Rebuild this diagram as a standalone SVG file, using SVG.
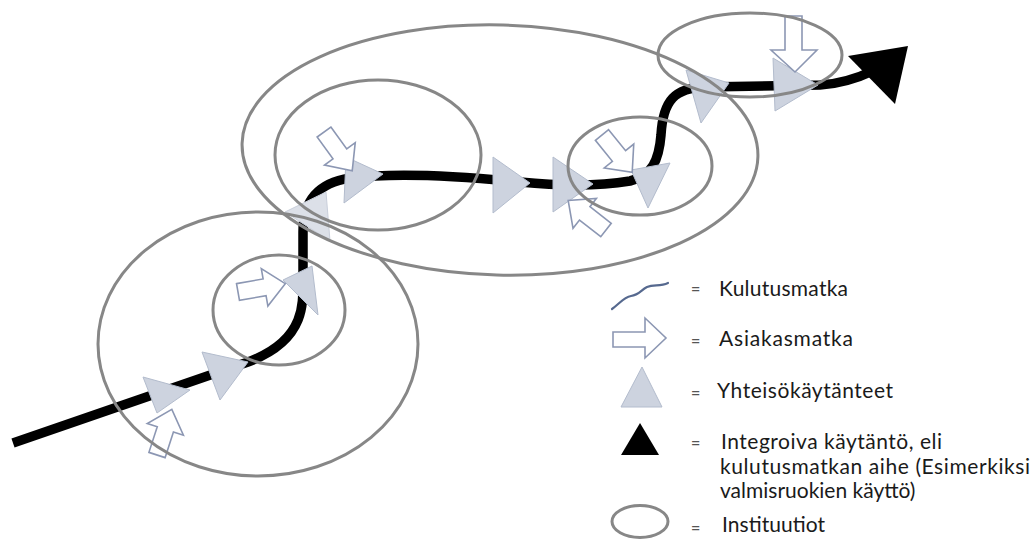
<svg xmlns="http://www.w3.org/2000/svg" xmlns:xlink="http://www.w3.org/1999/xlink" width="1035" height="540" viewBox="0 0 1035 540">
  <style>
    .journey { fill: none; stroke: #000; stroke-width: 9.5; stroke-linejoin: round; }
    .practice { fill: #cdd3df; stroke: #b3bccd; stroke-width: 1; }
    .faded { fill: #dce0e8; stroke: #c9cfdb; }
    .visit { fill: #fff; stroke: #8c97b3; stroke-width: 1.6; stroke-linejoin: miter; }
    .inst { fill: none; stroke: #878787; stroke-width: 3; }
    .label { font-family: Lato, "Open Sans", sans-serif; font-size: 21px; fill: #1a1a1a; }
    .eq { font-family: Lato, "Open Sans", sans-serif; font-size: 16px; font-weight: bold; fill: #555; }
  </style>
  <defs>
    <!-- hollow block arrow, tail centre at origin, pointing along +x -->
    <path id="visitArrow" d="M0,-8.5 H27 V-19 L48,0 L27,19 V8.5 H0 Z"/>
  </defs>

  <!-- consumption journey line with the integrating practice at its end -->
  <g id="connectors">
    <path class="journey" d="M13,443 L248,362 C272,353 290,340 298,320 C303,308 303,295 303,280 L303,232 C303,200 318,183 350,178 C400,172 460,176 520,182 C560,186 600,186 630,181 C652,176 659,160 661,135 C663,100 675,88 705,87 L820,85 C840,84 858,78 875,70"/>
  </g>
  <g id="integrating-practice">
    <polygon points="848,56 908,46 895,104" fill="#000"/>
  </g>

  <!-- community practices along the journey -->
  <g id="practices">
    <polygon class="practice" points="143,377 190,390 157,413"/>
    <polygon class="practice" points="202,352 248,362 220,400"/>
    <polygon class="practice" points="283,280 312,266 318,315"/>
    <polygon class="practice faded" points="285,212 326,192 330,241"/>
    <polygon class="practice" points="346,157 383,174 344,203"/>
    <polygon class="practice" points="493,157 530,183 493,213"/>
    <polygon class="practice" points="553,157 593,184 553,212"/>
    <polygon class="practice" points="631,170 670,163 648,208"/>
    <polygon class="practice" points="686,70 729,83 701,123"/>
    <polygon class="practice" points="773,58 818,85 775,111"/>
  </g>

  <!-- customer journey entry points -->
  <g id="customer-journeys">
    <use xlink:href="#visitArrow" href="#visitArrow" class="visit" transform="translate(157,455) rotate(-72)"/>
    <use xlink:href="#visitArrow" href="#visitArrow" class="visit" transform="translate(238,292) rotate(-10)"/>
    <use xlink:href="#visitArrow" href="#visitArrow" class="visit" transform="translate(324,132) rotate(54)"/>
    <use xlink:href="#visitArrow" href="#visitArrow" class="visit" transform="translate(606,230) rotate(-142)"/>
    <use xlink:href="#visitArrow" href="#visitArrow" class="visit" transform="translate(602,135) rotate(51)"/>
    <polygon class="visit" points="785,16 802,16 802,50 817,50 795,72 771,50 785,50"/>
  </g>

  <!-- institutions -->
  <g id="institutions">
    <ellipse id="inst-lower" class="inst" cx="258" cy="344" rx="160" ry="132"/>
    <ellipse id="inst-lower-inner" class="inst" cx="279" cy="310" rx="66" ry="55"/>
    <ellipse id="inst-middle" class="inst" cx="500" cy="150" rx="258" ry="125" transform="rotate(1.5 500 150)"/>
    <ellipse id="inst-middle-left" class="inst" cx="378" cy="155" rx="103" ry="75"/>
    <ellipse id="inst-middle-right" class="inst" cx="640" cy="166" rx="72" ry="49"/>
    <ellipse id="inst-top" class="inst" cx="750" cy="55" rx="92" ry="42"/>
  </g>

  <!-- legend -->
  <g id="legend">
    <g id="legend-journey">
      <path d="M612,309 C619,304 624,297 631,296 C639,295 641,290 647,287 C654,284 660,287 668,283" fill="none" stroke="#56698f" stroke-width="2.2" stroke-linecap="round"/>
      <text class="eq" x="691" y="294">=</text>
      <text class="label" x="719" y="296" textLength="129" lengthAdjust="spacing">Kulutusmatka</text>
    </g>
    <g id="legend-customer">
      <polygon class="visit" points="613,332 645,332 645,318 666,338 645,358 645,347 613,347"/>
      <text class="eq" x="691" y="346">=</text>
      <text class="label" x="719" y="346" textLength="134" lengthAdjust="spacing">Asiakasmatka</text>
    </g>
    <g id="legend-practice">
      <polygon class="practice" points="642,367 662,407 621,407"/>
      <text class="eq" x="691" y="398">=</text>
      <text class="label" x="717" y="398" textLength="176" lengthAdjust="spacing">Yhteisökäytänteet</text>
    </g>
    <g id="legend-integrating">
      <polygon points="640,423 659,455 621,455" fill="#000"/>
      <text class="eq" x="691" y="448">=</text>
      <text class="label" x="721" y="449" textLength="221" lengthAdjust="spacing">Integroiva käytäntö, eli</text>
      <text class="label" x="720" y="474" textLength="310" lengthAdjust="spacing">kulutusmatkan aihe (Esimerkiksi</text>
      <text class="label" x="720" y="498">valmisruokien käyttö)</text>
    </g>
    <g id="legend-institution">
      <ellipse class="inst" cx="640" cy="521.5" rx="28" ry="16"/>
      <text class="eq" x="691" y="533">=</text>
      <text class="label" x="722" y="532" textLength="103" lengthAdjust="spacing">Instituutiot</text>
    </g>
  </g>
</svg>
